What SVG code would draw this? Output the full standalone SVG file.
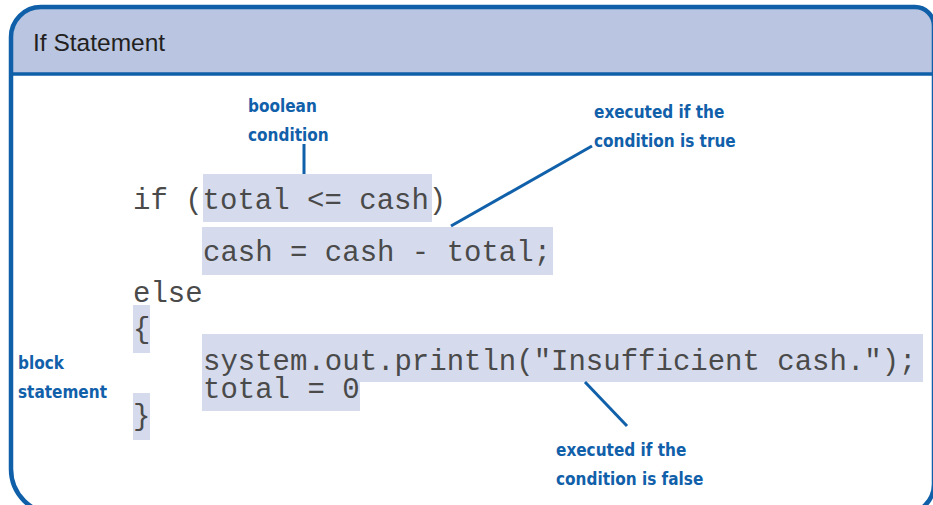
<svg xmlns="http://www.w3.org/2000/svg" width="933" height="505" viewBox="0 0 933 505">
  <style>
    .frame { fill: none; stroke: #0f5fa9; stroke-width: 4.5; }
    .band { fill: #b9c5e1; }
    .hl { fill: #d5dbed; }
    .code { font-family: "Liberation Mono", "Courier New", monospace; font-size: 29px; fill: #4a4a4a; }
    .title { font-family: "Liberation Sans", Arial, sans-serif; font-size: 24.5px; fill: #231f20; }
    .note { font-family: "DejaVu Sans Condensed", "DejaVu Sans", sans-serif; font-stretch: condensed; font-weight: bold; font-size: 17px; fill: #1160aa; }
    .lead { stroke: #1160aa; stroke-width: 3; fill: none; }
  </style>

  <!-- panel background and header band -->
  <rect x="0" y="0" width="933" height="505" fill="#ffffff"/>
  <path class="band" d="M 11 74 L 11 37 A 30 30 0 0 1 41 7 L 915 7 A 19 19 0 0 1 934 26 L 934 74 Z"/>
  <line x1="11" y1="74" x2="934" y2="74" stroke="#0f5fa9" stroke-width="3.5"/>
  <path class="frame" d="M 56 514 A 45 45 0 0 1 11 469 L 11 37 A 30 30 0 0 1 41 7 L 915 7 A 19 19 0 0 1 934 26 L 934 484 A 30 30 0 0 1 904 514 Z"/>
  <text class="title" x="33" y="51">If Statement</text>

  <!-- highlighted code regions -->
  <g id="highlights">
    <rect class="hl" x="203" y="174" width="229" height="48"/>
    <rect class="hl" x="202" y="227" width="351" height="48"/>
    <rect class="hl" x="133" y="305" width="17" height="48"/>
    <rect class="hl" x="202" y="334" width="721" height="48"/>
    <rect class="hl" x="202" y="382" width="158" height="29"/>
    <rect class="hl" x="133" y="393" width="17" height="47"/>
  </g>

  <!-- code listing -->
  <g id="code">
    <text class="code" x="133" y="209" xml:space="preserve">if (total &lt;= cash)</text>
    <text class="code" x="203" y="261" xml:space="preserve">cash = cash - total;</text>
    <text class="code" x="133" y="302">else</text>
    <text class="code" x="133" y="338">{</text>
    <text class="code" xml:space="preserve"><tspan x="203" y="370">system.out.println("Insufficient cash.");</tspan><tspan x="203" y="398">total = 0</tspan></text>
    <text class="code" x="133" y="425">}</text>
  </g>

  <!-- callout labels -->
  <g id="note-condition">
    <text class="note" x="248" y="112">boolean</text>
    <text class="note" x="248" y="141">condition</text>
  </g>
  <g id="note-true">
    <text class="note" x="594" y="118">executed if the</text>
    <text class="note" x="594" y="147">condition is true</text>
  </g>
  <g id="note-block">
    <text class="note" x="18" y="369">block</text>
    <text class="note" x="18" y="398">statement</text>
  </g>
  <g id="note-false">
    <text class="note" x="556" y="456">executed if the</text>
    <text class="note" x="556" y="485">condition is false</text>
  </g>

  <!-- leader lines -->
  <g id="connectors">
    <line class="lead" x1="304" y1="144" x2="304" y2="174"/>
    <line class="lead" x1="451" y1="226" x2="592" y2="146"/>
    <line class="lead" x1="585" y1="382" x2="627" y2="426"/>
  </g>
</svg>
